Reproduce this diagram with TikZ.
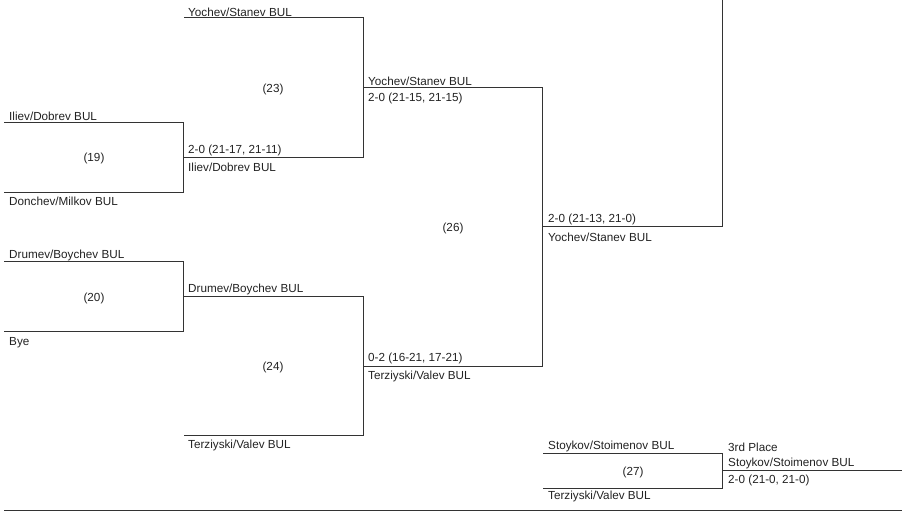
\documentclass[tikz,border=0pt]{standalone}
\usepackage{fontspec}
\setmainfont{Liberation Sans}
\definecolor{linec}{HTML}{333333}
\definecolor{textc}{HTML}{222222}
\tikzset{
  lbl/.style={anchor=west,inner sep=0pt,yshift=-1.8pt,text=textc,font=\fontsize{11.7}{13}\selectfont},
  num/.style={anchor=center,inner sep=0pt,yshift=-1.8pt,text=textc,font=\fontsize{11.7}{13}\selectfont},
  bline/.style={draw=linec,line width=0.9pt}
}
\begin{document}
\begin{tikzpicture}[x=1pt,y=-1pt]
\useasboundingbox (0,0) rectangle (907,515);
% coordinates
\coordinate (a1) at (184,17);  \coordinate (a2) at (363,17);
\coordinate (b1) at (4,122);   \coordinate (b2) at (183,122);
\coordinate (b3) at (4,192);   \coordinate (b4) at (183,192);
\coordinate (c1) at (183,157); \coordinate (c2) at (363,157);
\coordinate (d1) at (363,87);  \coordinate (d2) at (542,87);
\coordinate (e1) at (4,261);   \coordinate (e2) at (183,261);
\coordinate (e3) at (4,331);   \coordinate (e4) at (183,331);
\coordinate (f1) at (183,296); \coordinate (f2) at (363,296);
\coordinate (g1) at (184,435); \coordinate (g2) at (363,435);
\coordinate (h1) at (363,366); \coordinate (h2) at (542,366);
\coordinate (i1) at (542,226); \coordinate (i2) at (722,226);
\coordinate (i3) at (722,0);
\coordinate (j1) at (543,453); \coordinate (j2) at (722,453);
\coordinate (j3) at (543,488); \coordinate (j4) at (722,488);
\coordinate (k1) at (722,470); \coordinate (k2) at (902,470);
\coordinate (m1) at (4,510);   \coordinate (m2) at (902,510);
% lines
\draw[bline] (a1) -- (a2) -- (c2) -- (c1);
\draw[bline] (b1) -- (b2) -- (b4) -- (b3);
\draw[bline] (d1) -- (d2) -- (h2) -- (h1);
\draw[bline] (e1) -- (e2) -- (e4) -- (e3);
\draw[bline] (f1) -- (f2) -- (g2) -- (g1);
\draw[bline] (i1) -- (i2) -- (i3);
\draw[bline] (j1) -- (j2) -- (j4) -- (j3);
\draw[bline] (k1) -- (k2);
\draw[bline] (m1) -- (m2);
% labels
\node[lbl] (t1) at (188,11) {Yochev/Stanev BUL};
\node[num] (n23) at (273,88) {(23)};
\node[lbl] (t2) at (368,80) {Yochev/Stanev BUL};
\node[lbl] (t3) at (368,97) {2-0 (21-15, 21-15)};
\node[lbl] (t4) at (9,115) {Iliev/Dobrev BUL};
\node[num] (n19) at (94,157) {(19)};
\node[lbl] (t5) at (188,149) {2-0 (21-17, 21-11)};
\node[lbl] (t6) at (188,166) {Iliev/Dobrev BUL};
\node[lbl] (t7) at (9,200) {Donchev/Milkov BUL};
\node[num] (n26) at (453,227) {(26)};
\node[lbl] (t8) at (548,218) {2-0 (21-13, 21-0)};
\node[lbl] (t9) at (548,236) {Yochev/Stanev BUL};
\node[lbl] (t10) at (9,254) {Drumev/Boychev BUL};
\node[num] (n20) at (94,297) {(20)};
\node[lbl] (t11) at (188,288) {Drumev/Boychev BUL};
\node[lbl] (t12) at (9,341) {Bye};
\node[num] (n24) at (273,366) {(24)};
\node[lbl] (t13) at (368,357) {0-2 (16-21, 17-21)};
\node[lbl] (t14) at (368,375) {Terziyski/Valev BUL};
\node[lbl] (t15) at (188,444) {Terziyski/Valev BUL};
\node[lbl] (t16) at (548,445) {Stoykov/Stoimenov BUL};
\node[num] (n27) at (633,471) {(27)};
\node[lbl] (t17) at (548,495) {Terziyski/Valev BUL};
\node[lbl] (t18) at (728,446) {3rd Place};
\node[lbl] (t19) at (728,462) {Stoykov/Stoimenov BUL};
\node[lbl] (t20) at (728,479) {2-0 (21-0, 21-0)};
\end{tikzpicture}
\end{document}
